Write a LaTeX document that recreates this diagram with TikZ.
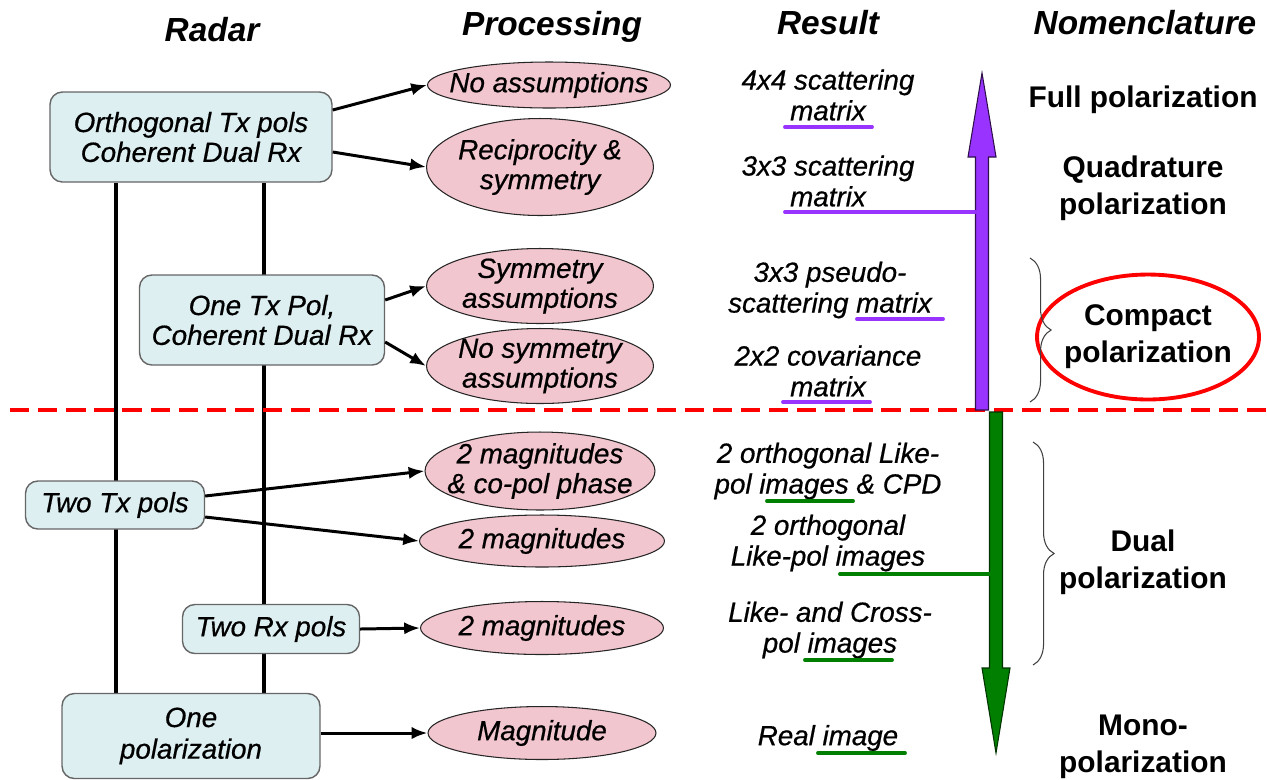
\documentclass[tikz,border=0pt]{standalone}
\usepackage{fontspec}
\setmainfont{Liberation Sans}
\newfontfamily\bodyfont{Liberation Sans}[FakeBold=0.6]
\usetikzlibrary{arrows.meta,shapes.geometric,decorations.pathreplacing,backgrounds,calc}
\definecolor{boxfill}{HTML}{DDEFF1}
\definecolor{ellfill}{HTML}{F2C6CE}
\definecolor{polviolet}{HTML}{9933FF}
\definecolor{polgreen}{HTML}{007F00}
\tikzset{
  radarbox/.style = {draw=black!60, fill=boxfill, rounded corners=7pt, line width=0.8pt, align=center, font=\bodyfont\fontsize{15.8}{17}\selectfont\itshape},
  procell/.style = {ellipse, draw=black!85, fill=ellfill, inner sep=0pt, line width=0.6pt},
  celltext/.style = {align=center, font=\bodyfont\fontsize{15.8}{17}\selectfont\itshape},
  resulttext/.style = {align=center, font=\bodyfont\fontsize{15.8}{17.5}\selectfont\itshape},
  nametext/.style = {align=center, font=\fontsize{17}{21}\selectfont\bfseries},
  headtext/.style = {font=\fontsize{19}{22}\selectfont\bfseries\itshape},
  feed/.style = {-{Latex[length=9pt,width=7pt]}, line width=1.7pt},
  vline/.style = {line width=2.1pt},
  ulviolet/.style = {polviolet, line width=2.2pt, line cap=round},
  ulgreen/.style = {polgreen, line width=2.2pt, line cap=round},
  bracegray/.style = {decorate, decoration={brace, amplitude=12pt}, draw=black!75, line width=0.6pt}
}
\begin{document}
\begin{tikzpicture}[x=0.02cm, y=-0.02cm]
\useasboundingbox (0,0) rectangle (1267,779);
% column heads
\node[headtext] (hradar) at (212,30) {Radar};
\node[headtext] (hproc) at (552,27) {Processing};
\node[headtext] (hres) at (828,23) {Result};
\node[headtext] (hnom) at (1145,23) {Nomenclature};
% separator
\draw [red, line width=2.2pt, dash pattern=on 11pt off 5pt] (10,410) -- (1267,410);
% radar modes
\node[radarbox, minimum width=5.64cm, minimum height=1.8cm] (ortho) at (191,137) {Orthogonal Tx pols\\Coherent Dual Rx};
\node[radarbox, minimum width=4.9cm, minimum height=1.8cm] (onetx) at (262,320) {One Tx Pol,\\Coherent Dual Rx};
\node[radarbox, minimum width=3.58cm, minimum height=0.96cm] (twotx) at (115,505) {Two Tx pols};
\node[radarbox, minimum width=3.54cm, minimum height=0.98cm] (tworx) at (271,629) {Two Rx pols};
\node[radarbox, minimum width=5.16cm, minimum height=1.7cm, font=\bodyfont\fontsize{15.8}{18}\selectfont\itshape] (onepol) at (191,736) {One\\polarization};
\begin{pgfonlayer}{background}
\draw [vline] ($(ortho.south)+(-75,0)$) -- ($(onepol.north)+(-75,0)$);
\draw [vline] ($(ortho.south)+(73,0)$) -- ($(onepol.north)+(73,0)$);
\end{pgfonlayer}
% processing
\node[procell, minimum width=4.86cm, minimum height=0.92cm, label={[celltext]center:No assumptions}] (noass) at (549,85) {};
\node[procell, minimum width=4.54cm, minimum height=1.94cm, label={[celltext]center:{Reciprocity \&\\symmetry}}] (recip) at (540,167) {};
\node[procell, minimum width=4.54cm, minimum height=1.5cm, label={[celltext]center:{Symmetry\\assumptions}}] (symass) at (540,286) {};
\node[procell, minimum width=4.54cm, minimum height=1.5cm, label={[celltext]center:{No symmetry\\assumptions}}] (nosym) at (540,366) {};
\node[procell, minimum width=4.6cm, minimum height=1.56cm, label={[celltext]center:{2 magnitudes\\\& co-pol phase}}] (magphase) at (540,471) {};
\node[procell, minimum width=4.9cm, minimum height=1.04cm, label={[celltext]center:2 magnitudes}] (magtx) at (542,541) {};
\node[procell, minimum width=4.86cm, minimum height=1.06cm, label={[celltext]center:2 magnitudes}] (magrx) at (542,628) {};
\node[procell, minimum width=4.56cm, minimum height=1.06cm, label={[celltext]center:Magnitude}] (magone) at (542,733) {};
\draw [feed] ($(ortho.east)+(0,-27)$) -- (noass.west);
\draw [feed] ($(ortho.east)+(0,15)$) -- (recip.west);
\draw [feed] ($(onetx.east)+(0,-20)$) -- (symass.west);
\draw [feed] ($(onetx.east)+(0,22)$) -- (nosym.west);
\draw [feed] ($(twotx.east)+(0,-9)$) -- (magphase.west);
\draw [feed] ($(twotx.east)+(0,12)$) -- (magtx.west);
\draw [feed] (tworx.east) -- (magrx.west);
\draw [feed] ($(onepol.east)+(0,-3)$) -- (magone.west);
% results
\node[resulttext] (full) at (828,95) {4x4 scattering\\matrix};
\node[resulttext] (quad) at (828,181) {3x3 scattering\\matrix};
\node[resulttext] (pseudo) at (830,290) {3x3 pseudo-\\scattering matrix};
\node[resulttext] (cov) at (828,371) {2x2 covariance\\matrix};
\node[resulttext] (likecpd) at (828,471) {2 orthogonal Like-\\pol images \& CPD};
\node[resulttext] (likepol) at (828,543) {2 orthogonal\\Like-pol images};
\node[resulttext] (cross) at (830,630) {Like- and Cross-\\pol images};
\node[resulttext] (real) at (828,738) {Real image};
% big arrows
\coordinate (uptip) at (982,73);
\coordinate (downtip) at (996,753);
\filldraw [fill=polviolet, draw=black!70!polviolet, line width=0.6pt]
  (975.5,410) -- (975.5,157) -- (968,157) -- (uptip) -- (996,157) -- (988.5,157) -- (988.5,410) -- cycle;
\filldraw [fill=polgreen, draw=black!60!polgreen, line width=0.6pt]
  (989.5,412) -- (989.5,668) -- (982,668) -- (downtip) -- (1010,668) -- (1002.5,668) -- (1002.5,412) -- cycle;
% underlines
\draw [ulviolet] (785,127) -- (872,127);
\draw [ulviolet] (785,212) -- (975,212);
\draw [ulviolet] (857,319) -- (943,319);
\draw [ulviolet] (783,402) -- (870,402);
\draw [ulgreen] (767,501) -- (853,501);
\draw [ulgreen] (840,574) -- (990,574);
\draw [ulgreen] (805,660) -- (892,660);
\draw [ulgreen] (818,753) -- (905,753);
% nomenclature
\node[nametext] (nfull) at (1143,100) {Full polarization};
\node[nametext] (nquad) at (1143,188) {Quadrature\\polarization};
\node[ellipse, draw=red, line width=2.2pt, minimum width=4.44cm, minimum height=2.5cm, inner sep=0pt, label={[nametext]center:{Compact\\polarization}}] (ncomp) at (1148,337) {};
\node[nametext] (ndual) at (1143,562) {Dual\\polarization};
\node[nametext] (nmono) at (1143,747) {Mono-\\polarization};
\draw [bracegray] (1030,258) -- (1030,402);
\draw [bracegray] (1033,442) -- (1033,665);
\end{tikzpicture}
\end{document}
